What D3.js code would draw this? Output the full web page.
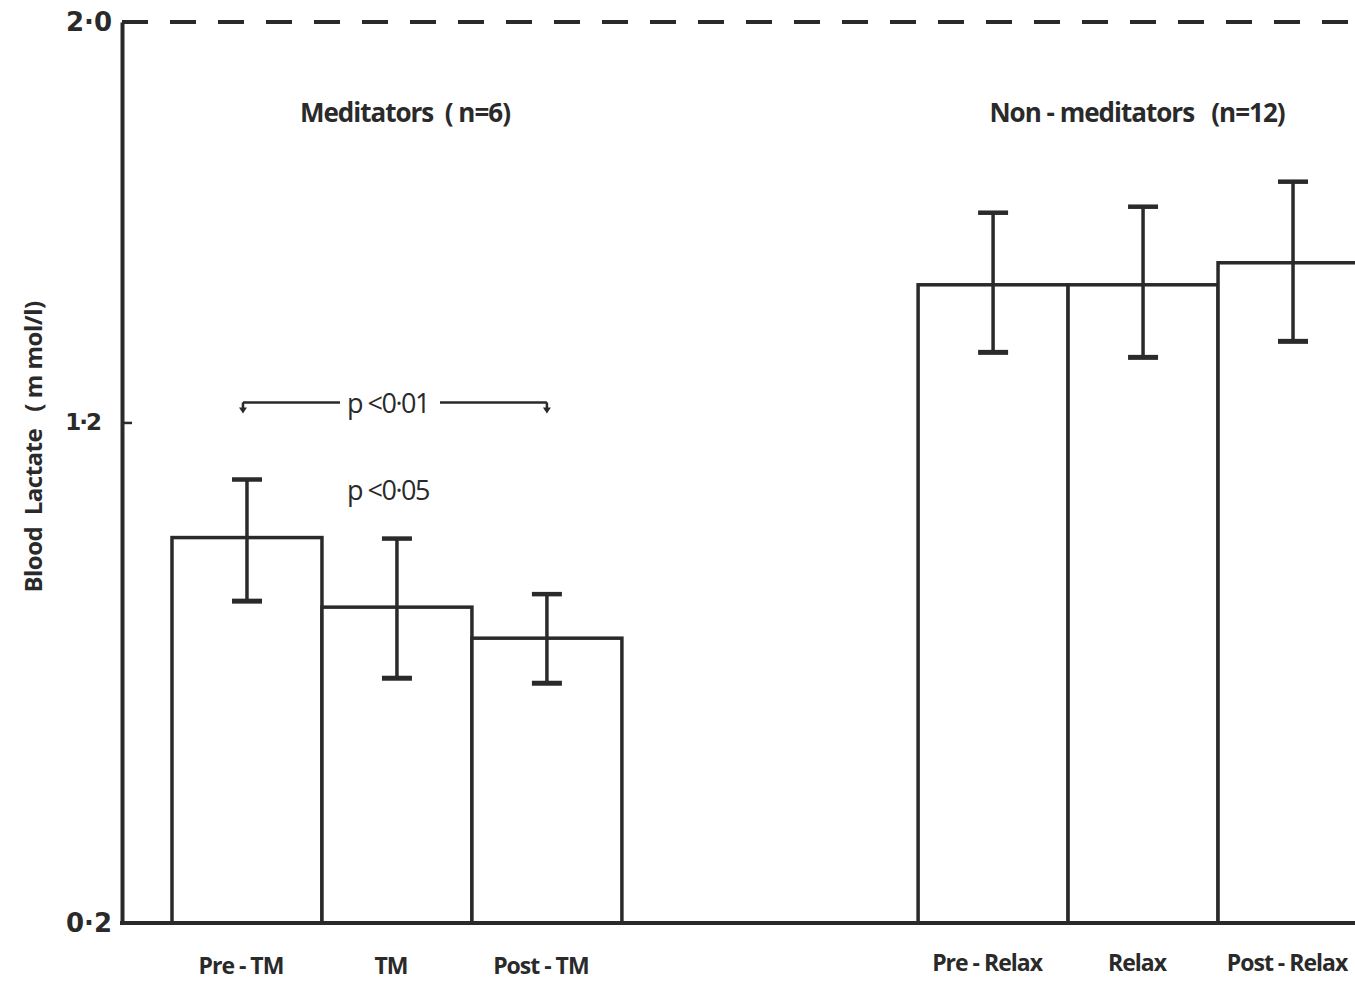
<!DOCTYPE html>
<html>
<style>
body { margin: 0; background: #fff; }
text {
  font-family: "Open Sans", "DejaVu Sans", sans-serif;
  font-weight: 700;
  fill: #2a2a2a;
  white-space: pre;
}
.bar { fill: #fff; stroke: #2a2a2a; stroke-width: 3.5px; }
.err line { stroke: #2a2a2a; }
</style>
<svg width="1355" height="983"></svg>
<script src="https://cdn.jsdelivr.net/npm/d3@7"></script>
<script>
// data
var groups = ["Meditators", "Non-meditators"];
var groupTitles = ["Meditators  ( n=6)", "Non - meditators   (n=12)"];
var conditions = ["Pre - TM", "TM", "Post - TM", "Pre - Relax", "Relax", "Post - Relax"];
var conditionGroup = [0, 0, 0, 1, 1, 1];
var means = [0.970, 0.831, 0.769, 1.475, 1.475, 1.519];
var errHigh = [1.086, 0.968, 0.857, 1.619, 1.631, 1.681];
var errLow = [0.843, 0.689, 0.679, 1.340, 1.330, 1.362];
var yTicks = [0.2, 1.2, 2.0];

var svg = d3.select("svg"),
    width = 1355,
    height = 983;

var y = d3.scaleLinear().domain([0.2, 2.0]).range([923, 22]);

// outer band: the two groups, inner band: the three conditions in each
var xGroup = d3.scaleBand().domain(groups)
    .range([122, 1418]).paddingInner(0.397).paddingOuter(0.067);
var xInner = d3.scaleBand().domain([0, 1, 2]).range([0, xGroup.bandwidth()]);

var data = conditions.map(function(c, i) {
  return { name: c, group: groups[conditionGroup[i]], idx: i % 3,
           mean: means[i], hi: errHigh[i], lo: errLow[i] };
});
function bx(d) { return xGroup(d.group) + xInner(d.idx); }
function cx(d) { return bx(d) + xInner.bandwidth() / 2; }

// bars
svg.append("g").selectAll("rect")
  .data(data)
  .enter().append("rect")
    .attr("class", "bar")
    .attr("x", bx)
    .attr("y", function(d) { return y(d.mean); })
    .attr("width", xInner.bandwidth())
    .attr("height", function(d) { return y(0.2) - y(d.mean); });

// error bars
var err = svg.append("g").attr("class", "err").selectAll("g")
  .data(data)
  .enter().append("g");
err.append("line")
    .attr("x1", cx).attr("x2", cx)
    .attr("y1", function(d) { return y(d.hi); })
    .attr("y2", function(d) { return y(d.lo); })
    .attr("stroke-width", 3.5);
err.append("line")
    .attr("x1", function(d) { return cx(d) - 15; })
    .attr("x2", function(d) { return cx(d) + 15; })
    .attr("y1", function(d) { return y(d.hi); })
    .attr("y2", function(d) { return y(d.hi); })
    .attr("stroke-width", 4.5);
err.append("line")
    .attr("x1", function(d) { return cx(d) - 15; })
    .attr("x2", function(d) { return cx(d) + 15; })
    .attr("y1", function(d) { return y(d.lo); })
    .attr("y2", function(d) { return y(d.lo); })
    .attr("stroke-width", 5);

// axes
var yAxis = svg.append("g")
    .attr("transform", "translate(122,0)")
    .call(d3.axisLeft(y).tickValues(yTicks).tickSizeInner(-10).tickSizeOuter(0)
      .tickFormat(function(d) { return d3.format(".1f")(d).replace(".", "·"); }));
yAxis.select(".domain").attr("stroke", "#2a2a2a").attr("stroke-width", 4);
yAxis.selectAll(".tick line").attr("stroke", "#2a2a2a").attr("stroke-width", 2.5);
yAxis.selectAll(".tick text")
    .attr("x", function(d) { return d === 1.2 ? -22 : -10; })
    .style("font-size", function(d) { return d === 1.2 ? "23px" : "26px"; })
    .style("letter-spacing", function(d) { return d === 1.2 ? "-2px" : "0px"; })
    .style("font-family", "'DejaVu Sans', sans-serif");

svg.append("line")
    .attr("x1", 120).attr("x2", width)
    .attr("y1", y(0.2)).attr("y2", y(0.2))
    .attr("stroke", "#2a2a2a").attr("stroke-width", 4);

svg.append("line")
    .attr("x1", 122).attr("x2", width)
    .attr("y1", y(2.0)).attr("y2", y(2.0))
    .attr("stroke", "#2a2a2a").attr("stroke-width", 4)
    .attr("stroke-dasharray", "26,22");

// y label
svg.append("text")
    .attr("transform", "translate(42," + y(1.151) + ") rotate(-90)")
    .attr("text-anchor", "middle")
    .style("font-size", "24px")
    .style("letter-spacing", "-0.5px")
    .text("Blood  Lactate   ( m mol/l)");

// group titles
svg.append("g").selectAll("text")
  .data(groups)
  .enter().append("text")
    .attr("x", function(d, i) { return xGroup(d) + xGroup.bandwidth() / 2 + (i ? -6 : 8); })
    .attr("y", 122)
    .attr("text-anchor", "middle")
    .style("font-size", "26px")
    .style("letter-spacing", "-1px")
    .text(function(d, i) { return groupTitles[i]; });

// condition labels
svg.append("g").selectAll("text")
  .data(data)
  .enter().append("text")
    .attr("x", function(d) { return cx(d) - 6; })
    .attr("y", function(d) { return d.group === groups[0] ? 974 : 971; })
    .attr("text-anchor", "middle")
    .style("font-size", "23px")
    .style("letter-spacing", "-1px")
    .text(function(d) { return d.name; });

// significance bracket between Pre-TM and Post-TM
var sA = cx(data[0]) - 4, sB = cx(data[2]);
var sy = y(1.24);
var brk = svg.append("g").attr("stroke", "#2a2a2a").attr("stroke-width", 2.5).attr("fill", "none");
brk.append("line").attr("x1", sA).attr("x2", 340).attr("y1", sy).attr("y2", sy);
brk.append("line").attr("x1", 440).attr("x2", sB).attr("y1", sy).attr("y2", sy);
[sA, sB].forEach(function(px) {
  brk.append("path")
      .attr("d", "M" + px + "," + sy + "V" + (sy + 6));
  svg.append("path")
      .attr("d", "M" + (px - 4) + "," + (sy + 5) + "L" + (px + 4) + "," + (sy + 5) + "L" + px + "," + (sy + 11) + "Z")
      .attr("fill", "#2a2a2a");
});
svg.append("text")
    .attr("x", 347).attr("y", sy + 11)
    .style("font-size", "27px").style("font-weight", 500)
    .style("letter-spacing", "-1.5px")
    .text("p <0·01");
svg.append("text")
    .attr("x", 347).attr("y", 500)
    .style("font-size", "27px").style("font-weight", 500)
    .style("letter-spacing", "-1.5px")
    .text("p <0·05");
</script>
</html>
